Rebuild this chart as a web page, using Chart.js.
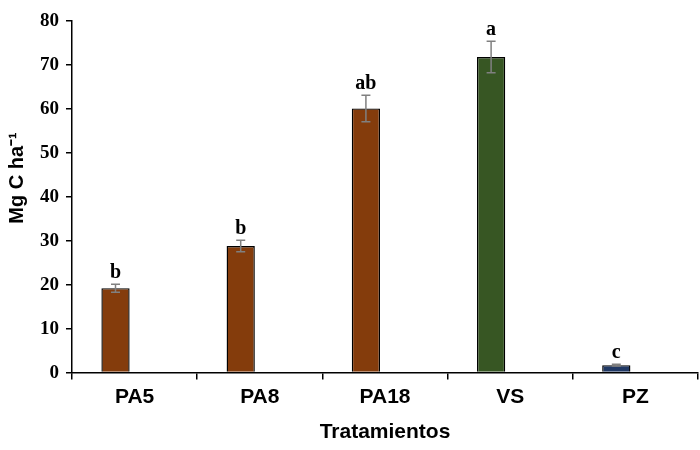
<!DOCTYPE html>
<html>
<head>
<meta charset="utf-8">
<script src="https://cdn.jsdelivr.net/npm/chart.js@4/dist/chart.umd.min.js"></script>
<style>
  body { margin: 0; background: #fff; }
  #wrap { width: 700px; height: 450px; }
</style>
</head>
<body>
<div id="wrap"><canvas id="bar-chart" width="700" height="450"></canvas></div>
<script>
let labels = ['PA5', 'PA8', 'PA18', 'VS', 'PZ'];
let carbon = [19.2, 28.8, 60.1, 71.8, 1.7];
let errors = [0.9, 1.3, 3.0, 3.6, 0.2];
let letters = ['b', 'b', 'ab', 'a', 'c'];
let colors = ['#843c0c', '#843c0c', '#843c0c', '#375623', '#203864'];
let yTicks = [0, 10, 20, 30, 40, 50, 60, 70, 80];

const sans = '"Liberation Sans", Arial, sans-serif';
const serif = '"Liberation Serif", "Times New Roman", serif';

// error bars, letters over each bar and the y title
const errorBars = {
    id: 'errorBars',
    afterDatasetsDraw(chart) {
        let ctx = chart.ctx;
        let y = chart.scales.y;
        let meta = chart.getDatasetMeta(0);
        ctx.save();
        meta.data.forEach((bar, i) => {
            let top = y.getPixelForValue(carbon[i] + errors[i]);
            let bottom = y.getPixelForValue(carbon[i] - errors[i]);
            ctx.strokeStyle = '#808080';
            ctx.lineWidth = 1.5;
            ctx.beginPath();
            ctx.moveTo(bar.x, top);
            ctx.lineTo(bar.x, bottom);
            ctx.moveTo(bar.x - 4.5, top);
            ctx.lineTo(bar.x + 4.5, top);
            ctx.moveTo(bar.x - 4.5, bottom);
            ctx.lineTo(bar.x + 4.5, bottom);
            ctx.stroke();

            ctx.fillStyle = '#000';
            ctx.font = 'bold 20px ' + serif;
            ctx.textAlign = 'center';
            ctx.textBaseline = 'alphabetic';
            ctx.fillText(letters[i], bar.x, top - 6);
        });

        ctx.translate(17, 178);
        ctx.rotate(-Math.PI / 2);
        ctx.font = 'bold 20px ' + sans;
        ctx.textAlign = 'center';
        ctx.textBaseline = 'middle';
        ctx.fillText('Mg C ha⁻¹', 0, 0);
        ctx.restore();
    }
};

let config = {
    type: 'bar',
    data: {
        labels: labels,
        datasets: [{
            data: carbon,
            backgroundColor: colors,
            borderColor: '#000',
            borderWidth: 1.4,
            categoryPercentage: 0.61,
            barPercentage: 0.74
        }, {
            data: labels.map(() => null),
            categoryPercentage: 0.61,
            barPercentage: 0.74
        }]
    },
    options: {
        responsive: false,
        animation: false,
        layout: { padding: { top: 21, right: 2, left: 33, bottom: 5 } },
        plugins: { legend: { display: false }, tooltip: { enabled: false } },
        scales: {
            x: {
                grid: { display: true, drawOnChartArea: false, offset: true, tickLength: 7, color: '#000', lineWidth: 1.5 },
                border: { color: '#000', width: 1.5 },
                ticks: { color: '#000', font: { family: sans, size: 21, weight: 'bold' }, padding: 5 },
                title: { display: true, text: 'Tratamientos', color: '#000', font: { family: sans, size: 21, weight: 'bold' }, padding: { top: 5, bottom: 0 } }
            },
            y: {
                min: 0,
                max: 80,
                afterBuildTicks: (axis) => { axis.ticks = yTicks.map(v => ({ value: v })); },
                grid: { display: true, drawOnChartArea: false, tickLength: 6, color: '#000', lineWidth: 1.5 },
                border: { color: '#000', width: 1.5 },
                ticks: { color: '#000', font: { family: serif, size: 19, weight: 'bold' }, padding: 7 }
            }
        }
    },
    plugins: [errorBars]
};

new Chart(document.getElementById('bar-chart'), config);
</script>
</body>
</html>
